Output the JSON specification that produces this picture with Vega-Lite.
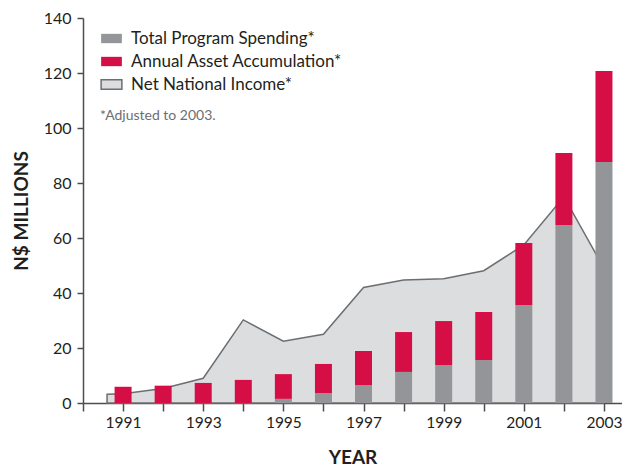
{
  "$schema": "https://vega.github.io/schema/vega-lite/v6.json",
  "width": 539,
  "height": 385,
  "autosize": {"type": "none"},
  "padding": {"left": 83, "top": 18, "right": 0, "bottom": 65},
  "background": "white",
  "config": {
    "view": {"stroke": null},
    "font": "Lato",
    "axis": {
      "domainColor": "#4d4d4f",
      "domainWidth": 1.5,
      "tickColor": "#4d4d4f",
      "tickWidth": 1.5,
      "labelColor": "#231f20",
      "labelFont": "Lato",
      "labelFontSize": 15,
      "titleFont": "Lato",
      "titleColor": "#231f20",
      "titleFontSize": 19,
      "titleFontWeight": "bold",
      "grid": false
    }
  },
  "datasets": {
    "bars": [
      {"year": 1991, "series": "Total Program Spending", "value": 0},
      {"year": 1991, "series": "Annual Asset Accumulation", "value": 5.9},
      {"year": 1992, "series": "Total Program Spending", "value": 0},
      {"year": 1992, "series": "Annual Asset Accumulation", "value": 6.3},
      {"year": 1993, "series": "Total Program Spending", "value": 0},
      {"year": 1993, "series": "Annual Asset Accumulation", "value": 7.3},
      {"year": 1994, "series": "Total Program Spending", "value": 0},
      {"year": 1994, "series": "Annual Asset Accumulation", "value": 8.4},
      {"year": 1995, "series": "Total Program Spending", "value": 1.5},
      {"year": 1995, "series": "Annual Asset Accumulation", "value": 9.0},
      {"year": 1996, "series": "Total Program Spending", "value": 3.6},
      {"year": 1996, "series": "Annual Asset Accumulation", "value": 10.6},
      {"year": 1997, "series": "Total Program Spending", "value": 6.5},
      {"year": 1997, "series": "Annual Asset Accumulation", "value": 12.4},
      {"year": 1998, "series": "Total Program Spending", "value": 11.3},
      {"year": 1998, "series": "Annual Asset Accumulation", "value": 14.5},
      {"year": 1999, "series": "Total Program Spending", "value": 13.8},
      {"year": 1999, "series": "Annual Asset Accumulation", "value": 16.0},
      {"year": 2000, "series": "Total Program Spending", "value": 15.6},
      {"year": 2000, "series": "Annual Asset Accumulation", "value": 17.5},
      {"year": 2001, "series": "Total Program Spending", "value": 35.6},
      {"year": 2001, "series": "Annual Asset Accumulation", "value": 22.6},
      {"year": 2002, "series": "Total Program Spending", "value": 64.7},
      {"year": 2002, "series": "Annual Asset Accumulation", "value": 26.2},
      {"year": 2003, "series": "Total Program Spending", "value": 87.6},
      {"year": 2003, "series": "Annual Asset Accumulation", "value": 33.1}
    ],
    "nni": [
      {"year": 1990.6, "series": "Net National Income", "value": 3.2},
      {"year": 1991, "series": "Net National Income", "value": 3.4},
      {"year": 1992, "series": "Net National Income", "value": 5.3},
      {"year": 1993, "series": "Net National Income", "value": 9.0},
      {"year": 1994, "series": "Net National Income", "value": 30.2},
      {"year": 1995, "series": "Net National Income", "value": 22.5},
      {"year": 1996, "series": "Net National Income", "value": 25.0},
      {"year": 1997, "series": "Net National Income", "value": 42.0},
      {"year": 1998, "series": "Net National Income", "value": 44.7},
      {"year": 1999, "series": "Net National Income", "value": 45.2},
      {"year": 2000, "series": "Net National Income", "value": 48.1},
      {"year": 2001, "series": "Net National Income", "value": 57.5},
      {"year": 2002, "series": "Net National Income", "value": 75.0},
      {"year": 2003, "series": "Net National Income", "value": 49.0}
    ]
  },
  "encoding": {
    "x": {
      "field": "year",
      "type": "quantitative",
      "scale": {"domain": [1990, 2003.45], "nice": false, "zero": false, "padding": 0},
      "axis": {
        "title": "YEAR",
        "values": [1990, 1991, 1992, 1993, 1994, 1995, 1996, 1997, 1998, 1999, 2000, 2001, 2002, 2003],
        "format": "d",
        "labelExpr": "datum.value % 2 == 1 ? datum.label : ''",
        "tickSize": 8,
        "labelPadding": 4,
        "labelFontSize": 15.5,
        "titlePadding": 18
      }
    },
    "y": {
      "field": "value",
      "type": "quantitative",
      "scale": {"domain": [0, 140], "nice": false},
      "axis": {
        "title": "N$ MILLIONS",
        "values": [0, 20, 40, 60, 80, 100, 120, 140],
        "tickSize": 6,
        "labelPadding": 6,
        "labelFontSize": 16,
        "titlePadding": 12
      }
    }
  },
  "layer": [
    {
      "data": {"name": "nni"},
      "mark": {"type": "area", "strokeWidth": 1.5, "opacity": 1},
      "encoding": {
        "fill": {
          "field": "series",
          "type": "nominal",
          "scale": {
            "domain": ["Total Program Spending", "Annual Asset Accumulation", "Net National Income"],
            "range": ["#939598", "#d50f45", "#dcdddf"]
          },
          "legend": {
            "title": "*Adjusted to 2003.",
            "titleOrient": "bottom",
            "titleFont": "Lato",
            "titleFontSize": 14,
            "titleFontWeight": "normal",
            "titleColor": "#6d6e71",
            "titlePadding": 16,
            "orient": "none",
            "legendX": 17,
            "legendY": 9,
            "padding": 0,
            "symbolType": "M-1,-0.45H1V0.45H-1Z",
            "symbolSize": 430,
            "symbolStrokeWidth": 1.5,
            "symbolOpacity": 1,
            "labelFont": "Lato",
            "labelFontSize": 17,
            "labelColor": "#231f20",
            "labelLimit": 400,
            "labelOffset": 8,
            "rowPadding": 3,
            "labelExpr": "datum.label + '*'"
          }
        },
        "stroke": {
          "field": "series",
          "type": "nominal",
          "scale": {
            "domain": ["Total Program Spending", "Annual Asset Accumulation", "Net National Income"],
            "range": ["transparent", "transparent", "#6d6e71"]
          },
          "legend": {
            "title": "*Adjusted to 2003.",
            "titleOrient": "bottom",
            "orient": "none",
            "legendX": 17,
            "legendY": 9,
            "labelLimit": 400,
            "labelExpr": "datum.label + '*'"
          }
        }
      }
    },
    {
      "data": {"name": "bars"},
      "mark": {"type": "bar", "size": 17},
      "encoding": {
        "y": {"field": "value", "type": "quantitative", "stack": "zero"},
        "fill": {"field": "series", "type": "nominal"},
        "order": {"field": "series", "sort": "descending"}
      }
    }
  ]
}
